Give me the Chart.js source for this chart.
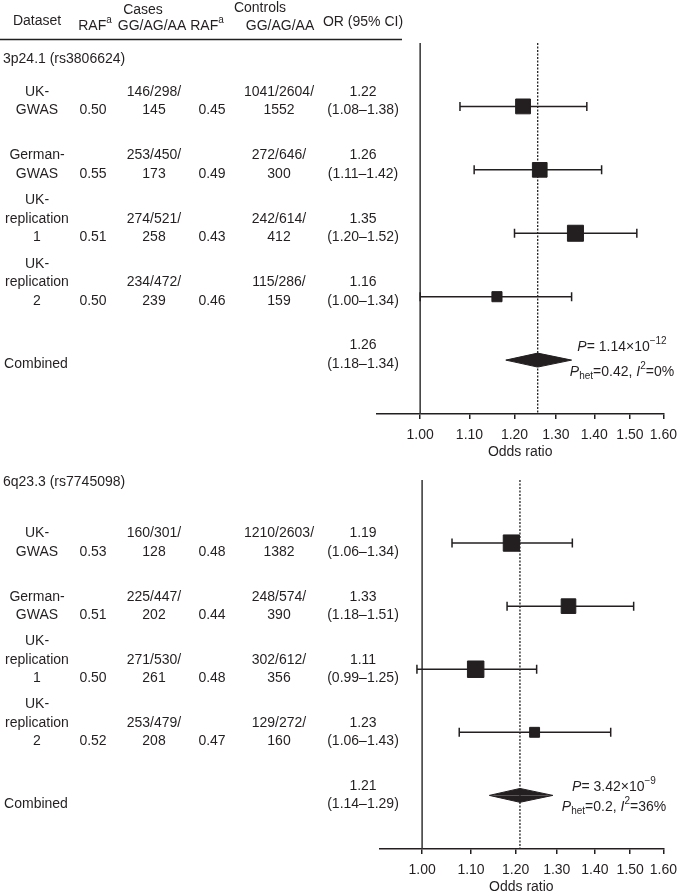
<!DOCTYPE html>
<html>
<head>
<meta charset="utf-8">
<script src="https://cdn.jsdelivr.net/npm/chart.js@4.4.1/dist/chart.umd.min.js"></script>
<style>
  body { margin: 0; background: #fff; }
  #wrap { position: relative; width: 685px; height: 896px; }
  canvas { position: absolute; left: 0; }
  #topChart { top: 0; }
  #bottomChart { top: 462px; }
</style>
</head>
<body>
<div id="wrap">
  <canvas id="topChart" width="685" height="462"></canvas>
  <canvas id="bottomChart" width="685" height="434"></canvas>
</div>
<script>
// rows shared by both panels
const datasetLabels = [['UK-', 'GWAS'], ['German-', 'GWAS'], ['UK-', 'replication', '1'], ['UK-', 'replication', '2']];
const xTicks = [1.0, 1.1, 1.2, 1.3, 1.4, 1.5, 1.6];

// 3p24.1 (rs3806624)
const rafCasesA = ['0.50', '0.55', '0.51', '0.50'];
const genoCasesA = ['146/298/145', '253/450/173', '274/521/258', '234/472/239'];
const rafControlsA = ['0.45', '0.49', '0.43', '0.46'];
const genoControlsA = ['1041/2604/1552', '272/646/300', '242/614/412', '115/286/159'];
const orTextA = ['1.22', '1.26', '1.35', '1.16', '1.26'];
const ciTextA = ['(1.08–1.38)', '(1.11–1.42)', '(1.20–1.52)', '(1.00–1.34)', '(1.18–1.34)'];
const orA = [1.22, 1.26, 1.35, 1.16];
const lowA = [1.08, 1.11, 1.20, 1.00];
const highA = [1.38, 1.42, 1.52, 1.34];
const pooledA = [1.255, 1.18, 1.34]; // OR, low, high
const statsA = ['1.14', '−12', '0.42', '0%'];

// 6q23.3 (rs7745098)
const rafCasesB = ['0.53', '0.51', '0.50', '0.52'];
const genoCasesB = ['160/301/128', '225/447/202', '271/530/261', '253/479/208'];
const rafControlsB = ['0.48', '0.44', '0.48', '0.47'];
const genoControlsB = ['1210/2603/1382', '248/574/390', '302/612/356', '129/272/160'];
const orTextB = ['1.19', '1.33', '1.11', '1.23', '1.21'];
const ciTextB = ['(1.06–1.34)', '(1.18–1.51)', '(0.99–1.25)', '(1.06–1.43)', '(1.14–1.29)'];
const orB = [1.19, 1.33, 1.11, 1.245];
const lowB = [1.06, 1.18, 0.99, 1.075];
const highB = [1.34, 1.51, 1.25, 1.444];
const pooledB = [1.21, 1.14, 1.29];
const statsB = ['3.42', '−9', '0.2', '36%'];

const FONT = '"Liberation Sans", Arial, Helvetica, sans-serif';
const INK = '#231f20';
const Y_MAX = 5.85;

function font(size, italic) {
    return (italic ? 'italic ' : '') + size + 'px ' + FONT;
}

// draws a line of mixed text (italic, super/subscript), centred on cx
function drawRich(ctx, parts, cx, y) {
    let total = 0;
    parts.forEach(p => {
        ctx.font = font(p.sup || p.sub ? 10 : 14, p.it);
        p.w = ctx.measureText(p.t).width;
        total += p.w;
    });
    let x = cx - total / 2;
    ctx.textAlign = 'left';
    parts.forEach(p => {
        ctx.font = font(p.sup || p.sub ? 10 : 14, p.it);
        let dy = 0;
        if (p.sup) dy = -6;
        if (p.sub) dy = 4;
        ctx.fillText(p.t, x, y + dy);
        x += p.w;
    });
}

function splitGeno(s) {
    const parts = s.split('/');
    return [parts[0] + '/' + parts[1] + '/', parts[2]];
}

const tablePlugin = {
    id: 'table',
    afterDraw(chart) {
        const p = chart.options.plugins.table;
        const ctx = chart.ctx;
        const ys = chart.scales.y;
        const lh = 18.5;
        ctx.save();
        ctx.fillStyle = INK;
        ctx.strokeStyle = INK;
        ctx.textBaseline = 'middle';
        ctx.textAlign = 'center';
        ctx.font = font(14);

        if (p.header) {
            ctx.fillText('Cases', 143, 10);
            ctx.fillText('Controls', 260, 8);
            ctx.fillText('Dataset', 37, 21);
            ctx.fillText('GG/AG/AA', 152, 26);
            ctx.fillText('GG/AG/AA', 280, 26);
            ctx.fillText('OR (95% CI)', 363, 22);
            drawRich(ctx, [{ t: 'RAF' }, { t: 'a', sup: true }], 95, 26);
            drawRich(ctx, [{ t: 'RAF' }, { t: 'a', sup: true }], 207, 26);
            ctx.lineWidth = 1.5;
            ctx.beginPath();
            ctx.moveTo(0, 39.5);
            ctx.lineTo(402, 39.5);
            ctx.stroke();
        }

        ctx.font = font(14);
        ctx.textAlign = 'left';
        ctx.fillText(p.title, 3, p.titleY);
        ctx.textAlign = 'center';

        for (let i = 0; i < datasetLabels.length; i++) {
            const last = ys.getPixelForValue(i + 1) + p.textShift;
            const lines = datasetLabels[i];
            lines.forEach((t, k) => {
                ctx.fillText(t, 37, last - (lines.length - 1 - k) * lh);
            });
            ctx.fillText(p.rafCases[i], 93, last);
            ctx.fillText(p.rafControls[i], 212, last);
            const gc = splitGeno(p.genoCases[i]);
            ctx.fillText(gc[0], 154, last - lh);
            ctx.fillText(gc[1], 154, last);
            const gk = splitGeno(p.genoControls[i]);
            ctx.fillText(gk[0], 279, last - lh);
            ctx.fillText(gk[1], 279, last);
            ctx.fillText(p.orText[i], 363, last - lh);
            ctx.fillText(p.ciText[i], 363, last);
        }
        const lastC = ys.getPixelForValue(5) + p.textShift;
        ctx.fillText('Combined', 36, lastC);
        ctx.fillText(p.orText[4], 363, lastC - lh);
        ctx.fillText(p.ciText[4], 363, lastC);

        const yc = ys.getPixelForValue(5);
        const s = p.stats;
        drawRich(ctx, [{ t: 'P', it: true }, { t: '= ' + s[0] + '×10' }, { t: s[1], sup: true }], p.statsX, yc + p.statsDy[0]);
        drawRich(ctx, [{ t: 'P', it: true }, { t: 'het', sub: true }, { t: '=' + s[2] + ', ' },
            { t: 'I', it: true }, { t: '2', sup: true }, { t: '=' + s[3] }], p.statsX, yc + p.statsDy[1]);
        ctx.restore();
    }
};

function makeForest(id, p) {
    const datasets = [];

    // box size follows study weight (inverse variance from the CI)
    const boxRadius = p.or.map((v, i) => {
        const w = Math.log(p.high[i] / p.low[i]);
        const side = 0.95 / (w * w);
        return (side - 1) / Math.SQRT2;
    });

    datasets.push({
        type: 'scatter',
        data: p.or.map((v, i) => ({ x: v, y: i + 1 })),
        pointStyle: 'rect',
        pointRadius: boxRadius,
        backgroundColor: INK,
        borderColor: INK,
        borderWidth: 1,
        order: 0
    });

    p.or.forEach((v, i) => {
        datasets.push({
            type: 'line',
            data: [{ x: p.low[i], y: i + 1 }, { x: p.high[i], y: i + 1 }],
            borderColor: INK,
            borderWidth: 1.5,
            pointStyle: 'line',
            pointRotation: 90,
            pointRadius: 4.5,
            pointBorderWidth: 1.5,
            pointBorderColor: INK,
            order: 1
        });
    });

    // pooled diamond, top and bottom halves
    [-0.11, 0.11].forEach(dh => {
        datasets.push({
            type: 'line',
            data: [{ x: p.pooled[1], y: 5 }, { x: p.pooled[0], y: 5 + dh }, { x: p.pooled[2], y: 5 }],
            borderColor: INK,
            borderWidth: 1,
            backgroundColor: INK,
            fill: { value: 5 },
            pointRadius: 0,
            tension: 0,
            order: 1
        });
    });

    datasets.push({
        type: 'line',
        data: [{ x: 1, y: 0 }, { x: 1, y: Y_MAX }],
        borderColor: '#333',
        borderWidth: 1.5,
        pointRadius: 0,
        order: 2
    });
    datasets.push({
        type: 'line',
        data: [{ x: p.pooled[0], y: 0 }, { x: p.pooled[0], y: Y_MAX }],
        borderColor: '#222',
        borderWidth: 1.3,
        borderDash: [2, 1.5],
        pointRadius: 0,
        order: 2
    });

    return new Chart(document.getElementById(id), {
        type: 'line',
        data: { datasets },
        plugins: [tablePlugin],
        options: {
            responsive: false,
            animation: false,
            devicePixelRatio: 1,
            layout: { padding: p.padding },
            plugins: {
                legend: { display: false },
                tooltip: { enabled: false },
                table: p
            },
            scales: {
                x: {
                    type: 'logarithmic',
                    min: 0.924,
                    max: 1.6,
                    afterBuildTicks: scale => {
                        scale.ticks = xTicks.map(v => ({ value: v }));
                    },
                    ticks: {
                        callback: v => Number(v).toFixed(2),
                        autoSkip: false,
                        maxRotation: 0,
                        padding: 8,
                        color: INK,
                        font: { size: 14, family: FONT }
                    },
                    grid: { drawOnChartArea: false, tickLength: 5, color: INK, lineWidth: 1.5 },
                    border: { display: true, color: INK, width: 1.5 },
                    title: {
                        display: true,
                        text: 'Odds ratio',
                        color: INK,
                        font: { size: 14, family: FONT },
                        padding: { top: -8, bottom: 0 }
                    }
                },
                y: { type: 'linear', display: false, min: 0, max: Y_MAX, reverse: true }
            }
        }
    });
}

makeForest('topChart', {
    header: true, title: '3p24.1 (rs3806624)', titleY: 59, textShift: 4,
    rafCases: rafCasesA, genoCases: genoCasesA, rafControls: rafControlsA, genoControls: genoControlsA,
    orText: orTextA, ciText: ciTextA, or: orA, low: lowA, high: highA, pooled: pooledA,
    stats: statsA, statsX: 622, statsDy: [-13, 12],
    padding: { left: 377, right: 16, top: 43, bottom: 1.4 }
});

makeForest('bottomChart', {
    header: false, title: '6q23.3 (rs7745098)', titleY: 20, textShift: 9,
    rafCases: rafCasesB, genoCases: genoCasesB, rafControls: rafControlsB, genoControls: genoControlsB,
    orText: orTextB, ciText: ciTextB, or: orB, low: lowB, high: highB, pooled: pooledB,
    stats: statsB, statsX: 614, statsDy: [-8, 12],
    padding: { left: 379.3, right: 13.3, top: 18, bottom: 0.4 }
});
</script>
</body>
</html>
